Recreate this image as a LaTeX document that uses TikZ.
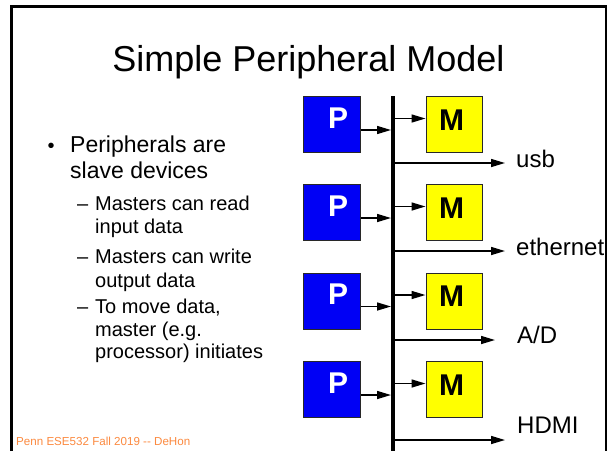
\documentclass[tikz,border=0pt]{standalone}
\usepackage{fontspec}
\setmainfont{Liberation Sans}
\usetikzlibrary{arrows.meta}
\definecolor{pblue}{RGB}{0,0,245}
\definecolor{myellow}{RGB}{255,255,0}
\definecolor{footcol}{RGB}{252,138,64}
\definecolor{edgecol}{RGB}{40,40,40}
\tikzset{
  unitbox/.style={draw=edgecol, line width=1pt, minimum height=56pt, inner sep=0pt},
  pbox/.style={unitbox, fill=pblue, minimum width=57pt},
  mbox/.style={unitbox, fill=myellow, minimum width=56pt},
  boxlabel/.style={font=\fontsize{30}{30}\selectfont\bfseries, inner sep=0pt, anchor=base},
  arr/.style={line width=1.5pt, -{Triangle[length=14pt,width=8pt]}},
  lbl/.style={font=\fontsize{24}{24}\selectfont, inner sep=0pt, anchor=base west},
  bigtext/.style={font=\fontsize{23}{23}\selectfont, inner sep=0pt, anchor=base west},
  subtext/.style={font=\fontsize{20}{20}\selectfont, inner sep=0pt, anchor=base west},
}
\begin{document}
\begin{tikzpicture}[x=1pt,y=-1pt]
\useasboundingbox (0,0) rectangle (612,451);
\fill[white] (0,0) rectangle (612,451);
% slide frame
\draw[line width=2.5pt, line join=miter] (11.5,451) -- (11.5,6.25) -- (606,6.25) -- (606,451);

% title
\node[font=\fontsize{36}{36}\selectfont, inner sep=0pt, anchor=base] (title) at (308.5,71) {Simple Peripheral Model};

% bullet list
\node[font=\fontsize{20}{20}\selectfont, inner sep=0pt, anchor=base west] (dot) at (47.5,152) {•};
\node[bigtext] (t1) at (70,152) {Peripherals are};
\node[bigtext] (t2) at (70,178) {slave devices};
\node[subtext] (d1) at (77,210) {–};
\node[subtext] (s1a) at (95,210) {Masters can read};
\node[subtext] (s1b) at (95,233) {input data};
\node[subtext] (d2) at (77,263) {–};
\node[subtext] (s2a) at (95,263) {Masters can write};
\node[subtext] (s2b) at (95,287) {output data};
\node[subtext] (d3) at (77,313.5) {–};
\node[subtext] (s3a) at (95,313.5) {To move data,};
\node[subtext] (s3b) at (95,336) {master (e.g.};
\node[subtext] (s3c) at (95,358) {processor) initiates};

% footer
\node[font=\fontsize{11.6}{11.6}\selectfont, text=footcol, inner sep=0pt, anchor=base west] (foot) at (16,445) {Penn ESE532 Fall 2019 -{}- DeHon};

% shared bus
\coordinate (bustop) at (393,96);
\coordinate (busbot) at (393,451);
\draw[line width=4pt] (bustop) -- (busbot);

% peripheral / master rows
\foreach \i/\c/\o/\lab/\lx/\ly/\sh in {1/124.5/163/usb/516/167/11, 2/212.5/251/ethernet/516/255/11, 3/301/340/{A/D}/517/343/22, 4/389.5/440/HDMI/517/433/12}{
  \node[pbox] (p\i) at (332,\c) {};
  \node[mbox] (m\i) at (454,\c) {};
  \node[boxlabel, text=white] (pt\i) at (338,\c+3.5) {P};
  \node[boxlabel] (mt\i) at (451.5,\c+5.5) {M};
  \coordinate (pin\i) at (391,\c+5.5);
  \coordinate (mout\i) at (395,\c-6);
  \coordinate (out\i) at (395,\o);
  \node[lbl] (lab\i) at (\lx,\ly) {\lab};
  \draw[arr] (p\i.east |- pin\i) -- (pin\i);
  \draw[arr] (mout\i) -- (m\i.west |- mout\i);
  \draw[arr, shorten >=\sh pt] (out\i) -- (out\i -| lab\i.west);
}
\end{tikzpicture}
\end{document}
